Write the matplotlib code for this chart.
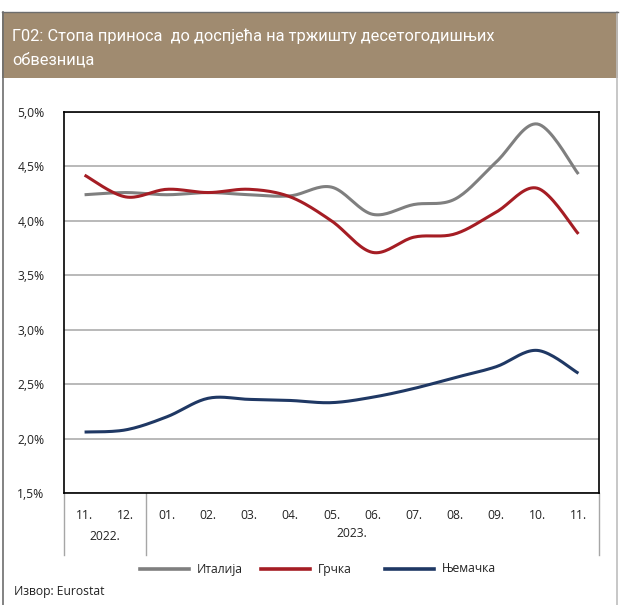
import numpy as np
import matplotlib.pyplot as plt
from matplotlib.patches import Rectangle
from matplotlib.lines import Line2D

# ==============================
# DATA
# ==============================
months = ["11.", "12.", "01.", "02.", "03.", "04.", "05.", "06.", "07.", "08.", "09.", "10.", "11."]
years = ["2022.", "2023."]
italy = [4.24, 4.26, 4.24, 4.26, 4.24, 4.23, 4.31, 4.06, 4.15, 4.20, 4.54, 4.89, 4.43]
greece = [4.42, 4.22, 4.29, 4.26, 4.29, 4.22, 4.00, 3.71, 3.85, 3.88, 4.08, 4.30, 3.88]
germany = [2.06, 2.08, 2.20, 2.37, 2.36, 2.35, 2.33, 2.38, 2.46, 2.56, 2.66, 2.81, 2.60]
series_names = ["Италија", "Грчка", "Њемачка"]
colors = ["#7f7f7f", "#a51d24", "#1f3864"]

title = "Г02: Стопа приноса  до доспјећа на тржишту десетогодишњих\nобвезница"
source = "Извор: Eurostat"

W, H = 622, 605


def smooth(y, n=20):
    # catmull-rom, close to excel "smoothed line"
    y = np.asarray(y, float)
    x = np.arange(len(y), dtype=float)
    px = np.concatenate([[x[0]], x, [x[-1]]])
    py = np.concatenate([[y[0]], y, [y[-1]]])
    xs, ys = [], []
    t = np.linspace(0, 1, n, endpoint=False)
    for i in range(1, len(px) - 2):
        for arr, out in ((px, xs), (py, ys)):
            p0, p1, p2, p3 = arr[i - 1], arr[i], arr[i + 1], arr[i + 2]
            out.extend(0.5 * (2 * p1 + (-p0 + p2) * t + (2 * p0 - 5 * p1 + 4 * p2 - p3) * t ** 2
                              + (-p0 + 3 * p1 - 3 * p2 + p3) * t ** 3))
    xs.append(x[-1])
    ys.append(y[-1])
    return np.array(xs), np.array(ys)


def fx(px):
    return px / W


def fy(py):
    return 1 - py / H


plt.rcParams['font.family'] = ['Open Sans', 'DejaVu Sans']

fig = plt.figure(figsize=(W / 100, H / 100), dpi=100)

# ==============================
# FRAME + TITLE BAND
# ==============================
fig.patches.append(Rectangle((fx(2), fy(78)), fx(616), 66 / H, transform=fig.transFigure,
                             facecolor="#a08b70", edgecolor="none"))
fig.add_artist(Line2D([fx(3), fx(3)], [fy(12), 0], color="#6d6d6d", lw=1.2))
fig.add_artist(Line2D([fx(617), fx(617)], [fy(12), 0], color="#bdbdbd", lw=1.2))
fig.add_artist(Line2D([fx(2), fx(618)], [fy(12), fy(12)], color="#6d6d6d", lw=1.0))
fig.text(fx(12), fy(48), title, color="white", fontsize=11.8, va="center", ha="left",
         linespacing=1.6, family=["Roboto", "DejaVu Sans"])

# ==============================
# CHART
# ==============================
ax = fig.add_axes([fx(64), fy(493), fx(599) - fx(64), (493 - 112) / H])
for vals, c, name in zip([italy, greece, germany], colors, series_names):
    sx, sy = smooth(vals)
    ax.plot(sx, sy, color=c, lw=2.2, label=name, solid_capstyle="butt")

ax.set_xlim(-0.5, len(months) - 0.5)
ax.set_ylim(1.5, 5.0)
yt = np.arange(1.5, 5.01, 0.5)
ax.set_yticks(yt)
ax.set_yticklabels([f"{v:.1f}%".replace(".", ",") for v in yt], fontsize=8.7, color="#222222")
ax.tick_params(axis="y", length=0, pad=14)
ax.set_xticks([])
ax.grid(axis="y", color="#a6a6a6", lw=1.1)
ax.set_axisbelow(True)
for s in ax.spines.values():
    s.set_color("black")
    s.set_linewidth(1.2)

# month / year labels under the axis
for i, m in enumerate(months):
    ax.annotate(m, (i, 0), xycoords=("data", "axes fraction"), xytext=(0, -16),
                textcoords="offset points", ha="center", va="center", fontsize=8.7, color="#222222")
ax.annotate(years[0], (0.5, 0), xycoords=("data", "axes fraction"), xytext=(0, -31),
            textcoords="offset points", ha="center", va="center", fontsize=8.7, color="#222222")
ax.annotate(years[1], (6.5, 0), xycoords=("data", "axes fraction"), xytext=(0, -29.5),
            textcoords="offset points", ha="center", va="center", fontsize=8.7, color="#222222")
for xv in [-0.5, 1.5, len(months) - 0.5]:
    ax.plot([xv, xv], [0, -62 / 381], transform=ax.get_xaxis_transform(), color="#a6a6a6",
            lw=1.0, clip_on=False)

# legend, drawn by hand so the uneven spacing matches
leg_x = [140, 261, 385]
for x0, c, name in zip(leg_x, colors, series_names):
    fig.add_artist(Line2D([fx(x0), fx(x0 + 49)], [fy(569), fy(569)], color=c, lw=2.6))
    fig.text(fx(x0 + 57), fy(569), name, fontsize=8.7, color="#222222", va="center", ha="left")

fig.text(fx(14), fy(592), source, fontsize=8.7, color="#222222", va="center", ha="left")

fig.savefig("out.png", dpi=100)
